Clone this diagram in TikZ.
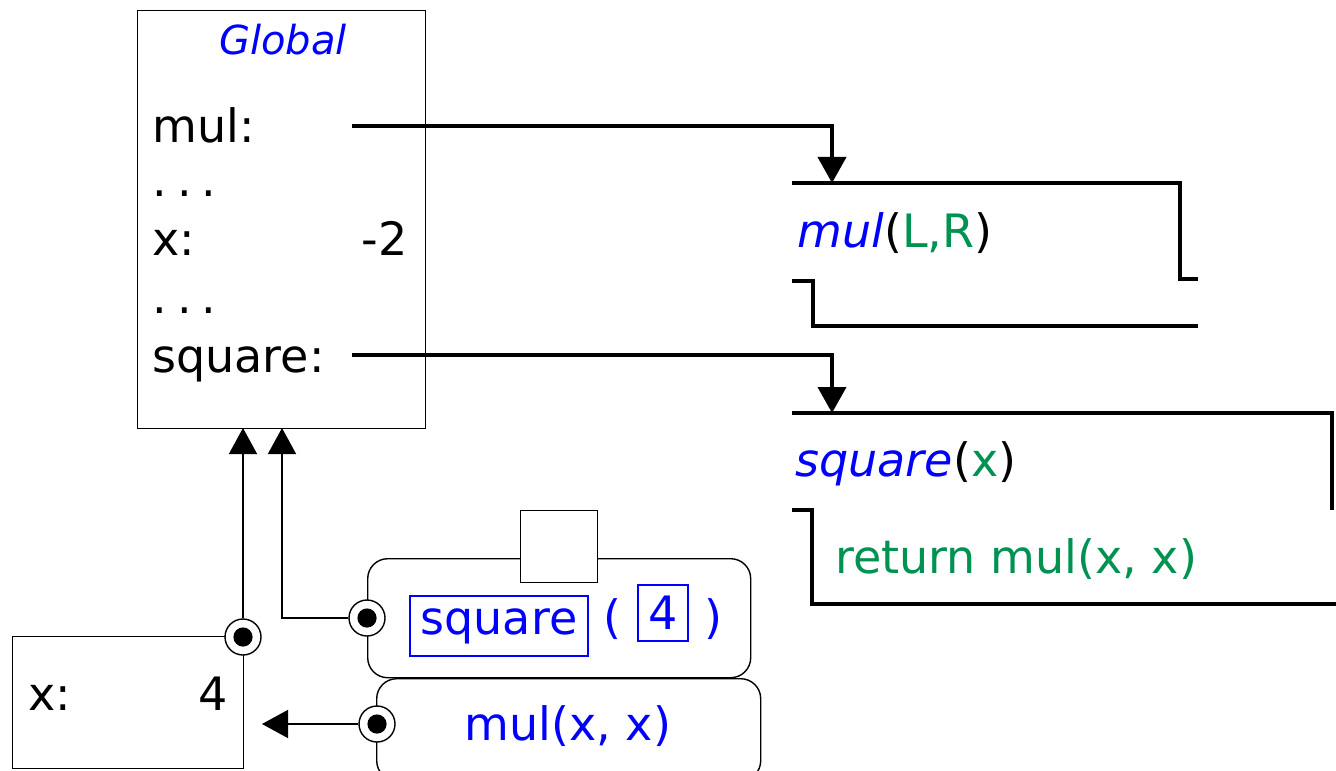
\documentclass[tikz,border=0pt]{standalone}
\usepackage{fontspec}
\setmainfont{DejaVu Sans}
\usetikzlibrary{arrows.meta,positioning}
\definecolor{fnblue}{RGB}{0,0,255}
\definecolor{codegreen}{RGB}{0,146,80}

\begin{document}
\begin{tikzpicture}[
			x=0.5pt, y=-0.5pt,
			every node/.style={font=\fontsize{23}{28}\selectfont, inner sep=0pt},
			frame/.style={draw, line width=0.7pt},
			thickline/.style={line width=2pt},
			ptr/.style={-{Triangle[length=13pt,width=14pt]}, line width=2pt},
			thinptr/.style={-{Triangle[length=13pt,width=14pt]}, line width=0.7pt},
			dotcirc/.style={circle, draw, fill=white, minimum size=18pt, line width=0.7pt,
				path picture={\fill[black] (path picture bounding box.center) circle (4.8pt);}}
			]
			\useasboundingbox (0,0) rectangle (1336,770);
			
			% Global frame
			\node[frame, anchor=north west, minimum width=144pt, minimum height=209pt] (glob) at (137,10) {};
			\node[anchor=base, text=fnblue, font=\fontsize{20}{24}\selectfont\itshape] (globtitle) at (283,55) {Global};
			\node[anchor=base west] (mulname) at (152,143) {mul:};
			\node[anchor=base west] (dotsa) at (152,197) {.\hspace{5pt}.\hspace{5pt}.};
			\node[anchor=base west] (xname) at (152,255) {x:};
			\node[anchor=base east] (xval) at (408,255) {-2};
			\node[anchor=base west] (dotsb) at (152,313) {.\hspace{5pt}.\hspace{5pt}.};
			\node[anchor=base west] (sqname) at (152,372) {square:};
			\coordinate (mulptr) at (352,126);
			\coordinate (sqptr) at (352,355);
			
			% Function mul
			\coordinate (mulfn) at (832,183);
			\draw[thickline] (792,183) -- (1180,183) -- (1180,279) -- (1198,279);
			\draw[thickline] (792,281) -- (813,281) -- (813,326) -- (1198,326);
			\node[anchor=base west] (mulsig) at (797,247) {\textcolor{fnblue}{\itshape mul}(\textcolor{codegreen}{L,R})};
			
			% Function square
			\coordinate (sqfn) at (832,413);
			\draw[thickline] (792,413) -- (1332,413) -- (1332,510);
			\draw[thickline] (792,510) -- (812,510) -- (812,604) -- (1336,604);
			\node[anchor=base west] (sqsig) at (795,476) {\textcolor{fnblue}{\itshape square}(\textcolor{codegreen}{x})};
			\node[anchor=base west, text=codegreen] (sqbody) at (835,573) {return mul(x, x)};
			
			% Pointers from Global
			\draw[ptr] (mulptr) -| (mulfn);
			\draw[ptr] (sqptr) -| (sqfn);
			
			% Local frame
			\node[frame, anchor=north west, minimum width=115.5pt, minimum height=66pt] (xframe) at (12,636) {};
			\node[anchor=base west] (xlocal) at (28,710) {x:};
			\node[anchor=base east] (xlocval) at (228,710) {4};
			\node[dotcirc] (xdot) at (243,637) {};
			
			% Call square(4)
			\node[frame, rounded corners=10pt, anchor=north west, minimum width=191.5pt, minimum height=59.5pt] (callsq) at (367,558) {};
			\node[frame, fill=white, anchor=north west, minimum width=38.5pt, minimum height=36pt] (retbox) at (520,510) {};
			\node[draw=fnblue, line width=0.8pt, text=fnblue, minimum width=89pt, minimum height=30pt] (opbox) at (499,626) {square};
			\node[anchor=base, text=fnblue] (lpar) at (612,633) {(};
			\node[draw=fnblue, line width=0.8pt, text=fnblue, minimum width=25pt, minimum height=28pt] (argbox) at (663,613) {4};
			\node[anchor=base, text=fnblue] (rpar) at (713,633) {)};
			\node[dotcirc] (calldot) at (367,618) {};
			
			% Call mul(x, x)
			\node[frame, rounded corners=10pt, anchor=north west, minimum width=192pt, minimum height=51pt] (callmul) at (376,678) {};
			\node[anchor=base, text=fnblue] (mulexpr) at (568,740) {mul(x, x)};
			\node[dotcirc] (muldot) at (377,724) {};
			
			% Environment pointers
			\coordinate (globina) at (243,428);
			\coordinate (globinb) at (282,428);
			\coordinate (xin) at (262,724);
			\draw[thinptr] (xdot.north) -- (globina);
			\draw[thinptr] (calldot.west) -| (globinb);
			\draw[thinptr] (muldot.west) -- (xin);
			
		\end{tikzpicture}
\end{document}
